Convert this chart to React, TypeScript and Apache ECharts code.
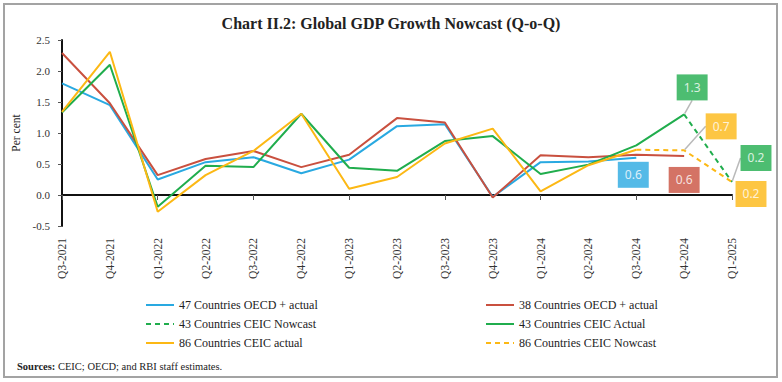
import React, { useEffect, useRef } from "react";
import * as echarts from "echarts";

const categories = [
  "Q3-2021", "Q4-2021", "Q1-2022", "Q2-2022", "Q3-2022", "Q4-2022", "Q1-2023", "Q2-2023",
  "Q3-2023", "Q4-2023", "Q1-2024", "Q2-2024", "Q3-2024", "Q4-2024", "Q1-2025",
];

const oecd47 = [1.8, 1.45, 0.25, 0.53, 0.61, 0.35, 0.57, 1.11, 1.14, -0.03, 0.53, 0.54, 0.6, null, null];
const oecd38 = [2.29, 1.48, 0.32, 0.58, 0.71, 0.45, 0.65, 1.24, 1.17, -0.04, 0.64, 0.61, 0.65, 0.63, null];
const ceic43Actual = [1.33, 2.1, -0.19, 0.47, 0.45, 1.31, 0.44, 0.39, 0.87, 0.95, 0.34, 0.49, 0.8, 1.3, null];
const ceic43Nowcast = [null, null, null, null, null, null, null, null, null, null, null, null, null, 1.3, 0.21];
const ceic86Actual = [1.34, 2.31, -0.27, 0.32, 0.71, 1.31, 0.1, 0.29, 0.83, 1.07, 0.06, 0.48, 0.73, null, null];
const ceic86Nowcast = [null, null, null, null, null, null, null, null, null, null, null, null, 0.73, 0.72, 0.21];

const yTicks = [-0.5, 0, 0.5, 1.0, 1.5, 2.0, 2.5];

const names = [
  "47 Countries OECD + actual",
  "38 Countries OECD + actual",
  "43 Countries CEIC Nowcast",
  "43 Countries CEIC Actual",
  "86 Countries CEIC actual",
  "86 Countries CEIC Nowcast",
];

const BLUE = "#29A9E1";
const RED = "#C9503F";
const GREEN = "#20AD4D";
const YELLOW = "#FCB814";
const SERIF = "'Liberation Serif', 'Times New Roman', serif";
const SANS = "'Noto Sans', 'DejaVu Sans', sans-serif";

export default function App() {
  const ref = useRef<HTMLDivElement>(null);
  useEffect(() => {
    document.body.style.margin = "0";
    const chart = echarts.init(ref.current!, null, { renderer: "svg" });
    const boxLabel = (bg: string) => ({
      show: true,
      position: "inside",
      formatter: (p: any) => Number(p.value[1]).toFixed(1),
      color: "#fff",
      fontFamily: SANS,
      fontSize: 12,
      lineHeight: 15,
      backgroundColor: bg,
      padding: [6, 7, 5, 7],
    });
    const leaderOffsets = [
      { dx: 8, dy: -27 },
      { dx: 37, dy: -24 },
      { dx: 24, dy: -24 },
    ];
    const line = (name: string, data: any[], color: string, dashed = false) => ({
      name,
      type: "line",
      data,
      symbol: "none",
      connectNulls: false,
      lineStyle: { color, width: 2, type: dashed ? [5, 4] : "solid" },
      itemStyle: { color },
      z: 3,
    });
    const legendBase = {
      orient: "vertical",
      top: 294,
      itemWidth: 28,
      itemHeight: 14,
      itemGap: 7,
      itemStyle: { opacity: 0, borderWidth: 0 },
      textStyle: { fontFamily: SERIF, fontSize: 12, color: "#222" },
    };
    chart.setOption({
      animation: false,
      title: {
        text: "Chart II.2: Global GDP Growth Nowcast (Q-o-Q)",
        left: "center",
        top: 10,
        textStyle: { fontFamily: SERIF, fontSize: 16, fontWeight: "bold", color: "#222" },
      },
      grid: { left: 62, right: 50, top: 40, bottom: 156 },
      legend: [
        { ...legendBase, data: [names[0], names[2], names[4]], left: 140 },
        { ...legendBase, data: [names[1], names[3], names[5]], left: 480 },
      ],
      xAxis: [
        {
          type: "category",
          data: categories,
          boundaryGap: false,
          axisLine: { onZero: true, lineStyle: { color: "#111", width: 2 } },
          axisTick: { show: true, length: 5, lineStyle: { color: "#555", width: 1 } },
          axisLabel: { show: false },
          splitLine: { show: false },
        },
        {
          type: "category",
          data: categories,
          position: "bottom",
          boundaryGap: false,
          axisLine: { show: false, onZero: false },
          axisTick: { show: false },
          axisLabel: { rotate: 90, margin: 12, fontFamily: SERIF, fontSize: 11.5, color: "#333" },
          splitLine: { show: false },
        },
      ],
      yAxis: {
        type: "value",
        min: yTicks[0],
        max: yTicks[yTicks.length - 1],
        interval: 0.5,
        name: "Per cent",
        nameLocation: "middle",
        nameGap: 33,
        nameTextStyle: { fontFamily: SERIF, fontSize: 11.5, color: "#222" },
        axisLine: { show: true, lineStyle: { color: "#111", width: 2 } },
        axisTick: { show: true, length: 4, lineStyle: { color: "#555" } },
        axisLabel: {
          margin: 12,
          fontFamily: SERIF,
          fontSize: 11,
          color: "#333",
          formatter: (v: number) => v.toFixed(1),
        },
        splitLine: { show: false },
      },
      series: [
        line(names[0], oecd47, BLUE),
        line(names[1], oecd38, RED),
        line(names[2], ceic43Nowcast, GREEN, true),
        line(names[3], ceic43Actual, GREEN),
        line(names[4], ceic86Actual, YELLOW),
        line(names[5], ceic86Nowcast, YELLOW, true),
        {
          type: "scatter",
          symbolSize: 2,
          itemStyle: { color: "rgba(0,0,0,0)" },
          z: 5,
          silent: true,
          data: [
            { value: [13, ceic43Actual[13]], label: boxLabel(GREEN) },
            { value: [13, ceic86Nowcast[13]], label: boxLabel(YELLOW) },
            { value: [14, ceic43Nowcast[14]], label: boxLabel(GREEN) },
          ],
          labelLine: { show: true, lineStyle: { color: "#b9b9b9", width: 1.5 } },
          labelLayout: (p: any) => leaderOffsets[p.dataIndex],
        },
        {
          type: "scatter",
          symbolSize: 2,
          itemStyle: { color: "rgba(0,0,0,0)" },
          z: 6,
          silent: true,
          data: [
            { value: [12, oecd47[12]], label: { ...boxLabel(BLUE), offset: [-3, 17] } },
            { value: [13, oecd38[13]], label: { ...boxLabel(RED), offset: [0, 24] } },
            { value: [14, ceic86Nowcast[14]], label: { ...boxLabel(YELLOW), offset: [19, 12] } },
          ],
        },
      ],
      graphic: [
        {
          type: "rect",
          shape: { x: 4, y: 4, width: 773, height: 373 },
          style: { fill: "none", stroke: "#a3a3a3", lineWidth: 2 },
          silent: true,
        },
        {
          type: "text",
          left: 17,
          top: 361,
          style: {
            text: "{b|Sources:} CEIC; OECD; and RBI staff estimates.",
            rich: {
              b: { fontFamily: SERIF, fontSize: 10.5, fontWeight: "bold", fill: "#222" },
            },
            fontFamily: SERIF,
            fontSize: 10.5,
            fill: "#222",
          },
        },
      ],
    });
    return () => chart.dispose();
  }, []);
  return (
    <div
      ref={ref}
      style={{ position: "fixed", left: 0, top: 0, width: 782, height: 382, background: "#fff" }}
    />
  );
}
